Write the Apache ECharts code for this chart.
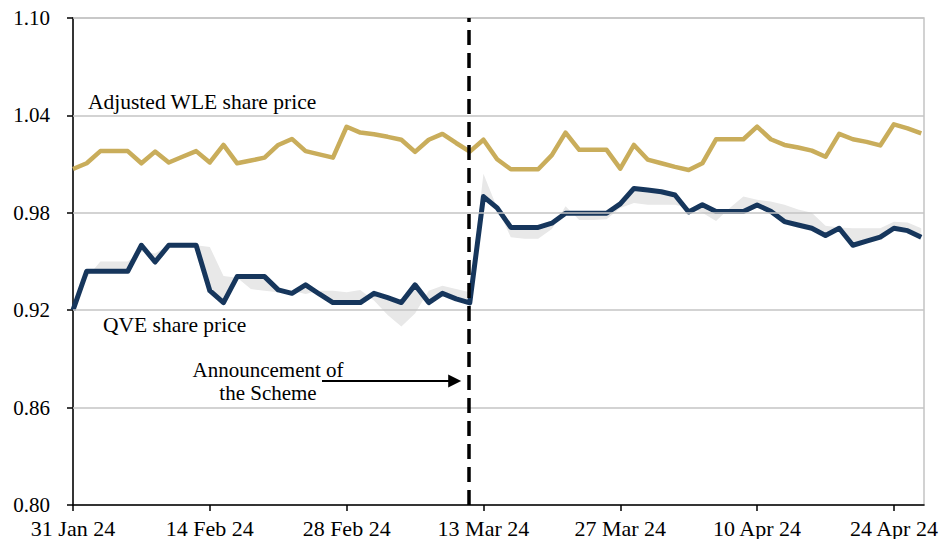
<!DOCTYPE html>
<html>
<head>
<meta charset="utf-8">
<script src="https://cdn.jsdelivr.net/npm/echarts@6/dist/echarts.min.js"></script>
<style>
  html, body { margin: 0; padding: 0; background: #fff; }
  #main { width: 945px; height: 539px; }
</style>
</head>
<body>
<div id="main"></div>
<script>
// trading days shown on the chart
var dates = ['31 Jan 24',
  '1 Feb 24', '2 Feb 24', '5 Feb 24', '6 Feb 24', '7 Feb 24', '8 Feb 24', '9 Feb 24', '12 Feb 24', '13 Feb 24', '14 Feb 24',
  '15 Feb 24', '16 Feb 24', '19 Feb 24', '20 Feb 24', '21 Feb 24', '22 Feb 24', '23 Feb 24', '26 Feb 24', '27 Feb 24', '28 Feb 24',
  '29 Feb 24', '1 Mar 24', '4 Mar 24', '5 Mar 24', '6 Mar 24', '7 Mar 24', '8 Mar 24', '11 Mar 24', '12 Mar 24', '13 Mar 24',
  '14 Mar 24', '15 Mar 24', '18 Mar 24', '19 Mar 24', '20 Mar 24', '21 Mar 24', '22 Mar 24', '25 Mar 24', '26 Mar 24', '27 Mar 24',
  '28 Mar 24', '29 Mar 24', '1 Apr 24', '2 Apr 24', '3 Apr 24', '4 Apr 24', '5 Apr 24', '8 Apr 24', '9 Apr 24', '10 Apr 24',
  '11 Apr 24', '12 Apr 24', '15 Apr 24', '16 Apr 24', '17 Apr 24', '18 Apr 24', '19 Apr 24', '22 Apr 24', '23 Apr 24', '24 Apr 24',
  '25 Apr 24', '26 Apr 24'];

// Adjusted WLE share price
var wle = [1.007,
  1.0105, 1.018, 1.018, 1.018, 1.0105, 1.0177, 1.011, 1.0145, 1.018, 1.011,
  1.0218, 1.0105, 1.0122, 1.014, 1.0218, 1.0255, 1.018, 1.016, 1.014, 1.033,
  1.0294, 1.0284, 1.0268, 1.025, 1.0175, 1.025, 1.0286, 1.023, 1.0177, 1.025,
  1.013, 1.0068, 1.0068, 1.0068, 1.0155, 1.0294, 1.0188, 1.0188, 1.0188, 1.0072,
  1.0218, 1.0128, 1.0105, 1.0083, 1.0064, 1.0105, 1.0253, 1.0253, 1.0253, 1.0331,
  1.0253, 1.0218, 1.0202, 1.0183, 1.0145, 1.0286, 1.0253, 1.0237, 1.0215, 1.0345,
  1.032, 1.029];

// QVE share price
var qve = [0.920,
  0.944, 0.944, 0.944, 0.944, 0.960, 0.9497, 0.960, 0.960, 0.960, 0.932,
  0.9247, 0.9407, 0.9407, 0.9407, 0.9325, 0.9304, 0.9356, 0.930, 0.9247, 0.9247,
  0.9247, 0.9304, 0.9277, 0.9247, 0.9356, 0.9247, 0.9304, 0.927, 0.9245, 0.990,
  0.983, 0.971, 0.971, 0.971, 0.9736, 0.9797, 0.9797, 0.9797, 0.9797, 0.9855,
  0.995, 0.994, 0.993, 0.991, 0.9805, 0.985, 0.9808, 0.9808, 0.9808, 0.9848,
  0.981, 0.9746, 0.9725, 0.9705, 0.966, 0.9705, 0.960, 0.9625, 0.965, 0.9705,
  0.969, 0.965];

// other edge of the grey band
var band = [0.920,
  0.940, 0.950, 0.950, 0.950, 0.956, 0.955, 0.960, 0.960, 0.960, 0.959,
  0.941, 0.940, 0.933, 0.932, 0.931, 0.932, 0.930, 0.932, 0.932, 0.931,
  0.9325, 0.926, 0.917, 0.910, 0.918, 0.932, 0.935, 0.933, 0.931, 1.004,
  0.983, 0.965, 0.964, 0.964, 0.970, 0.984, 0.9755, 0.9755, 0.976, 0.983,
  0.986, 0.985, 0.985, 0.985, 0.983, 0.980, 0.975, 0.983, 0.990, 0.988,
  0.987, 0.985, 0.982, 0.980, 0.972, 0.971, 0.9705, 0.9705, 0.9705, 0.9745,
  0.974, 0.9705];

var xTicks = [0, 10, 20, 30, 40, 50, 60];
var yTicks = [0.80, 0.86, 0.92, 0.98, 1.04, 1.10];
var announceAt = 28.95;   // between 11 and 12 Mar
var arrowFrom = 18.2, arrowTo = 27.9, arrowLevel = 0.8764;

var font = '"Liberation Serif", "Times New Roman", serif';

function pairs(arr) {
  return arr.map(function (v, i) { return [i, v]; });
}

var dom = document.getElementById('main');
var myChart = echarts.init(dom, null, { renderer: 'svg' });

var option = {
  animation: false,
  grid: {
    left: 73, right: 21, top: 18, bottom: 34,
    show: true, borderColor: '#c4c4c4', borderWidth: 1.5
  },
  xAxis: {
    type: 'value', min: 0, max: 62.2,
    axisLine: { lineStyle: { color: '#000', width: 1.5 } },
    axisTick: { customValues: xTicks, length: 6, lineStyle: { color: '#000', width: 1.5 } },
    axisLabel: {
      customValues: xTicks, margin: 12, color: '#000', fontSize: 22, fontFamily: font,
      formatter: function (v) { return dates[Math.round(v)]; }
    },
    splitLine: { show: false }
  },
  yAxis: {
    type: 'value', min: 0.80, max: 1.10,
    axisLine: { show: true, lineStyle: { color: '#000', width: 1.5 } },
    axisTick: { show: true, customValues: yTicks, length: 6, lineStyle: { color: '#000', width: 1.5 } },
    axisLabel: {
      customValues: yTicks, margin: 23, color: '#000', fontSize: 21, fontFamily: font,
      formatter: function (v) { return v.toFixed(2); }
    },
    splitLine: { show: false }
  },
  graphic: [
    { type: 'text', left: 88, top: 91, z: 10,
      style: { text: 'Adjusted WLE share price', font: '21.5px ' + font, fill: '#000' } },
    { type: 'text', left: 103, top: 314, z: 10,
      style: { text: 'QVE share price', font: '21.5px ' + font, fill: '#000' } },
    { type: 'text', x: 268, y: 358, z: 10,
      style: { text: 'Announcement of\nthe Scheme', font: '21px ' + font, fill: '#000',
        align: 'center', lineHeight: 23 } }
  ],
  series: [
    { // horizontal grid lines
      type: 'line', data: [], z: 1, silent: true,
      markLine: {
        silent: true, symbol: 'none', label: { show: false },
        lineStyle: { color: '#c4c4c4', width: 1.5, type: 'solid' },
        data: yTicks.slice(1).map(function (v) { return { yAxis: v }; })
      }
    },
    { // grey band between QVE and its other edge
      type: 'custom', z: 2, silent: true,
      data: [[0, qve[0]]],
      renderItem: function (params, api) {
        var pts = [];
        for (var i = 0; i < qve.length; i++) pts.push(api.coord([i, qve[i]]));
        for (var j = band.length - 1; j >= 0; j--) pts.push(api.coord([j, band[j]]));
        return { type: 'polygon', shape: { points: pts }, style: { fill: '#e8e8e8' } };
      }
    },
    {
      name: 'Adjusted WLE share price', type: 'line', z: 3,
      data: pairs(wle), symbol: 'none',
      lineStyle: { color: '#c9ad5b', width: 4.5, join: 'round' }
    },
    {
      name: 'QVE share price', type: 'line', z: 4,
      data: pairs(qve), symbol: 'none',
      lineStyle: { color: '#16365c', width: 5, join: 'round' }
    },
    { // announcement marker
      type: 'line', data: [], z: 5, silent: true,
      markLine: {
        silent: true, symbol: ['none', 'none'], label: { show: false },
        lineStyle: { color: '#000', width: 3.5, type: [15, 8] },
        data: [{ xAxis: announceAt }]
      }
    },
    { // arrow pointing to the announcement
      type: 'line', data: [], z: 5, silent: true,
      markLine: {
        silent: true, symbol: ['none', 'triangle'], symbolSize: 13, label: { show: false },
        lineStyle: { color: '#000', width: 2, type: 'solid' },
        data: [[{ coord: [arrowFrom, arrowLevel] }, { coord: [arrowTo, arrowLevel] }]]
      }
    }
  ]
};

myChart.setOption(option);
</script>
</body>
</html>
